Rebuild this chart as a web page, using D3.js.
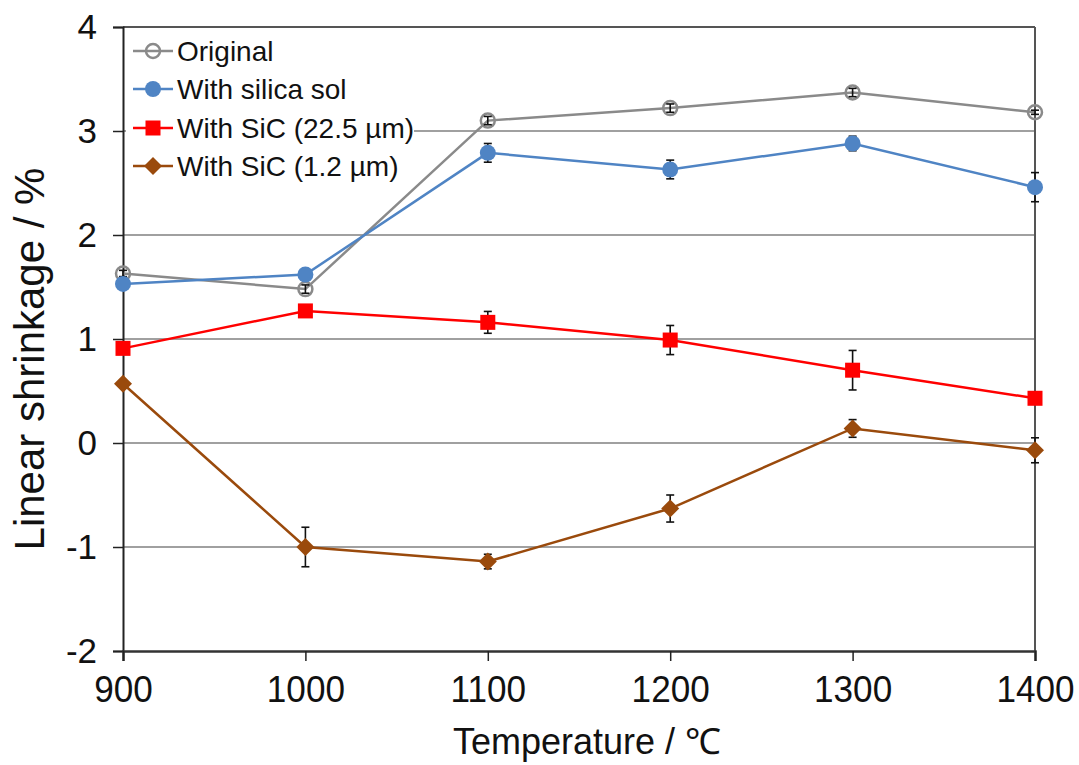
<!DOCTYPE html>
<html>
<head>
<meta charset="utf-8">
<script src="https://cdn.jsdelivr.net/npm/d3@7"></script>
<style>
  html, body { margin: 0; padding: 0; background: #fff; }
  svg { display: block; }
</style>
</head>
<body>
<svg id="chart" width="1079" height="765"></svg>
<script>
// Firing temperature (°C)
const temperatures = [900, 1000, 1100, 1200, 1300, 1400];

// Linear shrinkage (%) and standard deviation for each sample
const originalValues   = [1.63, 1.48, 3.10, 3.22, 3.37, 3.18];
const originalErrors   = [0.03, 0.04, 0.04, 0.04, 0.04, 0.02];
const silicaSolValues  = [1.53, 1.62, 2.79, 2.63, 2.88, 2.46];
const silicaSolErrors  = [0.04, 0.04, 0.09, 0.09, 0.07, 0.14];
const sicCoarseValues  = [0.91, 1.27, 1.16, 0.99, 0.70, 0.43];
const sicCoarseErrors  = [0.03, 0.03, 0.105, 0.14, 0.19, 0.03];
const sicFineValues    = [0.57, -1.00, -1.14, -0.63, 0.14, -0.07];
const sicFineErrors    = [0.03, 0.19, 0.07, 0.13, 0.085, 0.12];

const seriesNames = ["Original", "With silica sol", "With SiC (22.5 µm)", "With SiC (1.2 µm)"];
const yTicks = [-2, -1, 0, 1, 2, 3, 4];

const series = [
  { name: seriesNames[0], values: originalValues,  errors: originalErrors,  color: "#8a8a8a", marker: "openCircle", errOnTop: true },
  { name: seriesNames[1], values: silicaSolValues, errors: silicaSolErrors, color: "#4f84c4", marker: "circle",     errOnTop: false },
  { name: seriesNames[2], values: sicCoarseValues, errors: sicCoarseErrors, color: "#ff0000", marker: "square",     errOnTop: false },
  { name: seriesNames[3], values: sicFineValues,   errors: sicFineErrors,   color: "#9a4a0c", marker: "diamond",    errOnTop: false }
];

const svg = d3.select("#chart");
const plot = { left: 123, right: 1035, top: 27, bottom: 651 };

const x = d3.scaleLinear().domain([900, 1400]).range([plot.left, plot.right]);
const y = d3.scaleLinear().domain([-2, 4]).range([plot.bottom, plot.top]);

const sansFont = "'Liberation Sans', Arial, sans-serif";

// Horizontal gridlines
svg.append("g")
  .selectAll("line")
  .data(yTicks.filter(t => t > -2 && t < 4))
  .join("line")
  .attr("x1", plot.left).attr("x2", plot.right)
  .attr("y1", d => y(d)).attr("y2", d => y(d))
  .attr("stroke", "#a0a0a0").attr("stroke-width", 2);

// Top and right frame
svg.append("line")
  .attr("x1", plot.left).attr("x2", plot.right)
  .attr("y1", y(4)).attr("y2", y(4))
  .attr("stroke", "#555").attr("stroke-width", 2);
svg.append("line")
  .attr("x1", plot.right).attr("x2", plot.right)
  .attr("y1", plot.top).attr("y2", plot.bottom)
  .attr("stroke", "#555").attr("stroke-width", 2);

// Y axis
const yAxis = svg.append("g")
  .attr("transform", `translate(${plot.left},0)`)
  .call(d3.axisLeft(y).tickValues(yTicks).tickSize(10).tickPadding(16).tickFormat(d3.format("d")));
yAxis.select(".domain").attr("stroke", "#222").attr("stroke-width", 2);
yAxis.selectAll(".tick line").attr("stroke", "#222").attr("stroke-width", 1.5);
yAxis.selectAll(".tick text")
  .attr("font-family", sansFont).attr("font-size", 35).attr("fill", "#111")
  .text(d => d < 0 ? "-" + Math.abs(d) : d);

// X axis (labels slightly condensed)
const xAxis = svg.append("g")
  .attr("transform", `translate(0,${plot.bottom})`)
  .call(d3.axisBottom(x).tickValues(temperatures).tickSize(10).tickPadding(15).tickFormat(d3.format("d")));
xAxis.select(".domain").attr("stroke", "#333").attr("stroke-width", 2.5);
xAxis.selectAll(".tick line").attr("stroke", "#222").attr("stroke-width", 1.5);
xAxis.selectAll(".tick text")
  .attr("font-family", sansFont).attr("font-size", 37).attr("fill", "#111")
  .attr("transform", "scale(0.95,1)");

// Axis titles
svg.append("text")
  .attr("transform", `translate(44,359) rotate(-90)`)
  .attr("text-anchor", "middle")
  .attr("font-family", sansFont).attr("font-size", 42).attr("fill", "#111")
  .text("Linear shrinkage / %");
svg.append("text")
  .attr("x", 587).attr("y", 754)
  .attr("text-anchor", "middle")
  .attr("font-family", sansFont).attr("font-size", 36).attr("fill", "#111")
  .text("Temperature / ℃");

// Marker drawing
function drawMarker(sel, type, color) {
  if (type === "openCircle") {
    sel.append("circle").attr("r", 7).attr("fill", "none")
      .attr("stroke", color).attr("stroke-width", 2.5);
  } else if (type === "circle") {
    sel.append("circle").attr("r", 8).attr("fill", color);
  } else if (type === "square") {
    sel.append("rect").attr("x", -7.5).attr("y", -7.5).attr("width", 15).attr("height", 15).attr("fill", color);
  } else if (type === "diamond") {
    sel.append("path").attr("d", "M0,-9L9,0L0,9L-9,0Z").attr("fill", color);
  }
}

function drawErrors(g, s) {
  const rows = temperatures.map((t, i) => ({ t, v: s.values[i], e: s.errors[i] }));
  const eg = g.append("g").attr("stroke", "#111").attr("stroke-width", 1.6);
  eg.selectAll("line.v").data(rows).join("line").attr("class", "v")
    .attr("x1", d => x(d.t)).attr("x2", d => x(d.t))
    .attr("y1", d => y(d.v - d.e)).attr("y2", d => y(d.v + d.e));
  eg.selectAll("line.top").data(rows).join("line").attr("class", "top")
    .attr("x1", d => x(d.t) - 4).attr("x2", d => x(d.t) + 4)
    .attr("y1", d => y(d.v + d.e)).attr("y2", d => y(d.v + d.e));
  eg.selectAll("line.bot").data(rows).join("line").attr("class", "bot")
    .attr("x1", d => x(d.t) - 4).attr("x2", d => x(d.t) + 4)
    .attr("y1", d => y(d.v - d.e)).attr("y2", d => y(d.v - d.e));
}

const line = d3.line().x(d => x(d.t)).y(d => y(d.v));

series.forEach(s => {
  const g = svg.append("g");
  const rows = temperatures.map((t, i) => ({ t, v: s.values[i] }));
  g.append("path").datum(rows).attr("d", line)
    .attr("fill", "none").attr("stroke", s.color).attr("stroke-width", 2.5);
  if (!s.errOnTop) drawErrors(g, s);
  g.selectAll("g.pt").data(rows).join("g").attr("class", "pt")
    .attr("transform", d => `translate(${x(d.t)},${y(d.v)})`)
    .each(function () { drawMarker(d3.select(this), s.marker, s.color); });
  if (s.errOnTop) drawErrors(g, s);
});

// Legend (white background, no border)
const legend = svg.append("g");
legend.append("rect").attr("x", 126).attr("y", 31).attr("width", 288).attr("height", 150).attr("fill", "#fff");
const legendRowY = [51, 89, 128, 166];
series.forEach((s, i) => {
  const row = legend.append("g").attr("transform", `translate(0,${legendRowY[i]})`);
  row.append("line").attr("x1", 133).attr("x2", 173).attr("y1", 0).attr("y2", 0)
    .attr("stroke", s.color).attr("stroke-width", 2.5);
  const m = row.append("g").attr("transform", "translate(153,0)");
  drawMarker(m, s.marker, s.color);
  row.append("text").attr("x", 177).attr("y", 0).attr("dy", "0.35em")
    .attr("font-family", sansFont).attr("font-size", 28).attr("fill", "#111")
    .text(s.name);
});
</script>
</body>
</html>
